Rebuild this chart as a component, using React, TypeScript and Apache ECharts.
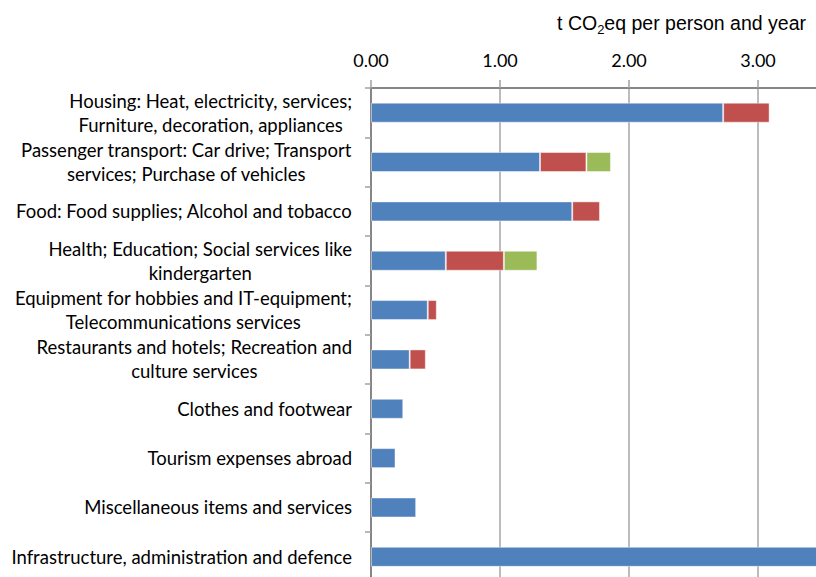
import React, { useEffect, useRef } from "react";
import * as echarts from "echarts";

const categories = [
  "Housing: Heat, electricity, services;\nFurniture, decoration, appliances",
  "Passenger transport: Car drive; Transport\nservices; Purchase of vehicles",
  "Food: Food supplies; Alcohol and tobacco",
  "Health; Education; Social services like\nkindergarten",
  "Equipment for hobbies and IT-equipment;\nTelecommunications services",
  "Restaurants and hotels; Recreation and\nculture services",
  "Clothes and footwear",
  "Tourism expenses abroad",
  "Miscellaneous items and services",
  "Infrastructure, administration and defence",
];

const seriesBlue = [2.73, 1.31, 1.56, 0.58, 0.44, 0.3, 0.25, 0.19, 0.35, 3.6];
const seriesRed = [0.36, 0.36, 0.215, 0.45, 0.07, 0.125, 0, 0, 0, 0];
const seriesGreen = [0, 0.19, 0, 0.26, 0, 0, 0, 0, 0, 0];

const xTicks = [0, 1, 2, 3];

const LABEL_FONT = "Lato, 'Open Sans', sans-serif";
const TITLE_FONT = "'Liberation Sans', Arial, sans-serif";

export default function App() {
  const ref = useRef<HTMLDivElement>(null);

  useEffect(() => {
    if (!ref.current) return;
    const chart = echarts.init(ref.current, undefined, { renderer: "svg" });
    const barStyle = (color: string) => ({
      color,
      borderColor: "rgba(255,255,255,0.45)",
      borderWidth: 1,
    });
    const mk = (name: string, data: number[], color: string) => ({
      name,
      type: "bar",
      stack: "total",
      barWidth: 20,
      data: data.map((v) => (v === 0 ? null : v)),
      itemStyle: barStyle(color),
    });
    chart.setOption({
      animation: false,
      backgroundColor: "#ffffff",
      title: {
        text: "{a|t CO}{s|2}{a|eq per person and year}",
        right: 10,
        top: 13,
        padding: 0,
        textStyle: {
          fontWeight: "normal",
          rich: {
            a: {
              fontFamily: TITLE_FONT,
              fontSize: 19.5,
              fontWeight: "normal",
              color: "#000",
              verticalAlign: "top",
            },
            s: {
              fontFamily: TITLE_FONT,
              fontSize: 13,
              fontWeight: "normal",
              color: "#000",
              verticalAlign: "top",
              padding: [9.5, 0, 0, 0],
            },
          },
        },
      },
      grid: {
        left: 371,
        top: 88,
        right: -6.5,
        bottom: -4.5,
        containLabel: false,
        outerBoundsMode: "none",
      },
      xAxis: {
        type: "value",
        position: "top",
        min: 0,
        max: 3.5,
        interval: 1,
        axisLine: { show: true, lineStyle: { color: "#868686", width: 2 } },
        axisTick: { show: true, inside: false, length: 8, lineStyle: { color: "#a0a0a0", width: 1.5 } },
        splitLine: { show: true, lineStyle: { color: "#a6a6a6", width: 1.5 } },
        axisLabel: {
          margin: 19,
          fontFamily: LABEL_FONT,
          fontSize: 18,
          color: "#000",
          formatter: (v: number) => (xTicks.includes(v) ? v.toFixed(2) : ""),
        },
      },
      yAxis: {
        type: "category",
        inverse: true,
        data: categories,
        axisLine: { show: true, lineStyle: { color: "#868686", width: 2 } },
        axisTick: { show: true, length: 6, alignWithLabel: false, lineStyle: { color: "#a0a0a0", width: 1.5 } },
        splitLine: { show: false },
        axisLabel: {
          margin: 19,
          interval: 0,
          formatter: (v: string) =>
            v
              .split("\n")
              .map((l) => `{c|${l}}`)
              .join("\n"),
          rich: {
            c: {
              align: "center",
              fontFamily: LABEL_FONT,
              fontSize: 18.5,
              lineHeight: 24,
              color: "#000",
            },
          },
        },
      },
      series: [
        mk("Direct", seriesBlue, "#4f81bd"),
        mk("Indirect", seriesRed, "#c0504d"),
        mk("Other", seriesGreen, "#9bbb59"),
      ],
    });
    return () => chart.dispose();
  }, []);

  return (
    <div
      ref={ref}
      style={{ position: "absolute", left: 0, top: 0, width: 816, height: 577 }}
    />
  );
}
